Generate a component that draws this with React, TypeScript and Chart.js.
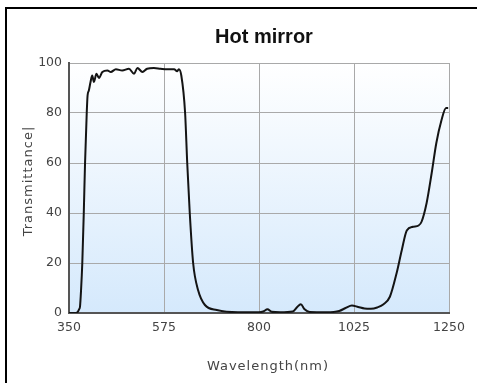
import React, { useEffect, useRef } from "react";
import { Chart, registerables } from "chart.js";

Chart.register(...registerables);

const TITLE = "Hot mirror";
const X_TITLE = "Wavelength(nm)";
const Y_TITLE = "Transmittance|";

const xTickValues = [350, 575, 800, 1025, 1250];
const yTickValues = [0, 20, 40, 60, 80, 100];

const wavelength = [
  350, 362, 370, 374, 376, 378.5, 381.5, 385, 388, 392, 394, 397, 401, 405, 409,
  415, 421, 429, 441, 449, 461, 476, 492, 504, 512, 524, 535, 551, 567, 583,
  599, 606, 610, 616, 625, 630, 636, 644, 656, 672, 700, 750, 800, 810, 820,
  830, 850, 880, 890, 899, 908, 920, 960, 990, 1005, 1020, 1035, 1050, 1065,
  1080, 1095, 1110, 1126, 1138, 1150, 1165, 1178, 1185, 1197, 1209, 1220, 1232,
  1243, 1248,
];

const transmittance = [
  0, 0, 0.3, 1.5, 2.5, 9, 20, 40, 60, 80, 87, 89, 92.4, 95, 92.4,
  95.7, 94, 96.4, 97, 96.4, 97.5, 97, 97.7, 95.7, 98, 96.4, 97.7, 98, 97.7, 97.5,
  97.5, 96.7, 97.5, 95, 80, 60, 40, 20, 9, 3.2, 1.2, 0.3, 0.3, 0.6, 1.5,
  0.5, 0.3, 0.6, 2.3, 3.5, 1.5, 0.4, 0.3, 0.8, 2, 3, 2.4, 1.8, 1.7,
  2.2, 3.5, 6.5, 16, 25, 33, 34.5, 35, 36.5, 44, 56, 68, 77,
  82, 82,
];

export default function App() {
  const ref = useRef<HTMLCanvasElement | null>(null);

  useEffect(() => {
    if (!ref.current) return;

    const bgPlugin = {
      id: "bgGradient",
      beforeDraw(chart: any) {
        const { ctx, chartArea } = chart;
        const { left, top, right, bottom } = chartArea;
        const g = ctx.createLinearGradient(0, top, 0, bottom);
        g.addColorStop(0, "#ffffff");
        g.addColorStop(1, "#d5e9fc");
        ctx.save();
        ctx.fillStyle = g;
        ctx.fillRect(left, top, right - left, bottom - top);
        ctx.restore();
      },
    };

    const textPlugin = {
      id: "texts",
      afterDraw(chart: any) {
        const ctx = chart.ctx as CanvasRenderingContext2D;
        ctx.save();
        ctx.textAlign = "center";
        ctx.textBaseline = "middle";
        ctx.fillStyle = "#111";
        ctx.font = "bold 20px 'Liberation Sans', Arial, sans-serif";
        ctx.fillText(TITLE, 264, 37);

        ctx.fillStyle = "#444";
        ctx.font = "13px 'DejaVu Sans', sans-serif";
        (ctx as any).letterSpacing = "1px";
        ctx.fillText(X_TITLE, 268, 367);

        ctx.translate(29, 181);
        ctx.rotate(-Math.PI / 2);
        ctx.fillText(Y_TITLE, 0, 0);
        ctx.restore();
      },
    };

    const tickFont = { family: "'DejaVu Sans', sans-serif", size: 12.5 };

    const chart = new Chart(ref.current, {
      type: "line",
      data: {
        datasets: [
          {
            data: wavelength.map((x, i) => ({ x, y: transmittance[i] })),
            borderColor: "#141414",
            borderWidth: 2,
            pointRadius: 0,
            cubicInterpolationMode: "monotone",
            fill: false,
          },
        ],
      },
      options: {
        animation: false,
        responsive: false,
        layout: { padding: { top: 63, right: 28, left: 0, bottom: 0 } },
        plugins: {
          legend: { display: false },
          tooltip: { enabled: false },
          title: { display: false },
        },
        scales: {
          x: {
            type: "linear",
            min: 350,
            max: 1250,
            afterBuildTicks: (s: any) => {
              s.ticks = xTickValues.map((v) => ({ value: v }));
            },
            afterFit: (s: any) => {
              s.height = 70;
            },
            grid: { color: "#a9a9a9", drawTicks: false, lineWidth: 1 },
            border: { display: true, color: "#555", width: 2 },
            ticks: {
              padding: 7,
              color: "#444",
              maxRotation: 0,
              autoSkip: false,
              font: tickFont,
              callback: (v: any) => String(v),
            },
          },
          y: {
            type: "linear",
            min: 0,
            max: 100,
            afterBuildTicks: (s: any) => {
              s.ticks = yTickValues.map((v) => ({ value: v }));
            },
            afterFit: (s: any) => {
              s.width = 69;
            },
            grid: { color: "#a9a9a9", drawTicks: false, lineWidth: 1 },
            border: { display: true, color: "#555", width: 2 },
            ticks: {
              padding: 7,
              color: "#444",
              font: tickFont,
              callback: (v: any) => String(v),
            },
          },
        },
      },
      plugins: [bgPlugin, textPlugin],
    } as any);

    return () => chart.destroy();
  }, []);

  return (
    <div
      style={{
        position: "fixed",
        left: 0,
        top: 0,
        width: 477,
        height: 383,
        background: "#fff",
        overflow: "hidden",
      }}
    >
      <canvas
        ref={ref}
        width={477}
        height={383}
        style={{ position: "absolute", left: 0, top: 0, width: 477, height: 383 }}
      />
      <div
        style={{
          position: "absolute",
          left: 5,
          top: 7,
          width: 500,
          height: 400,
          borderTop: "2px solid #000",
          borderLeft: "2px solid #000",
          pointerEvents: "none",
        }}
      />
    </div>
  );
}
